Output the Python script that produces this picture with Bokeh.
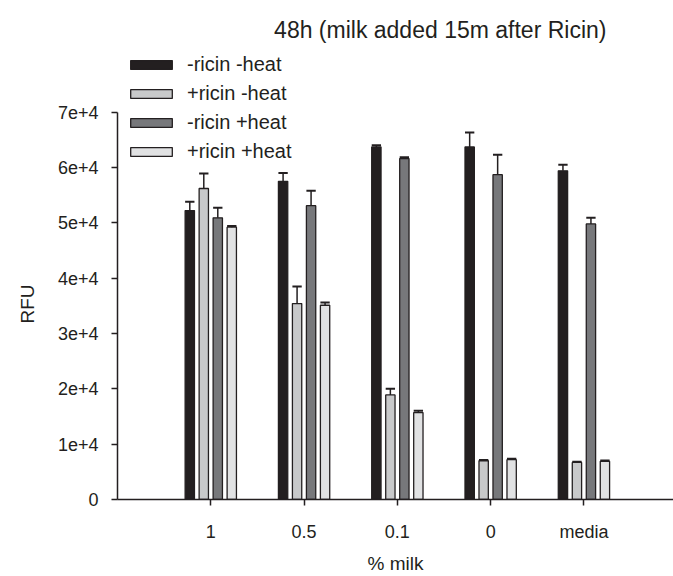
import numpy as np
from bokeh.plotting import figure
from bokeh.models import (Range1d, FixedTicker, LinearAxis, Legend, LegendItem, Label, Title)
from bokeh.embed import file_html
from bokeh.resources import INLINE

# ---- data ----
categories = ["1", "0.5", "0.1", "0", "media"]
series_names = ["-ricin -heat", "+ricin -heat", "-ricin +heat", "+ricin +heat"]
neg_ricin_neg_heat = [52200, 57500, 63700, 63700, 59400]
pos_ricin_neg_heat = [56200, 35400, 18900, 7000, 6700]
neg_ricin_pos_heat = [50900, 53100, 61600, 58700, 49800]
pos_ricin_pos_heat = [49200, 35100, 15700, 7200, 6900]
err_neg_neg = [1600, 1500, 300, 2600, 1100]
err_pos_neg = [2700, 3100, 1100, 150, 100]
err_neg_pos = [1800, 2700, 250, 3600, 1100]
err_pos_pos = [200, 500, 350, 150, 150]
y_ticks = [0, 10000, 20000, 30000, 40000, 50000, 60000, 70000]
y_tick_labels = ["0", "1e+4", "2e+4", "3e+4", "4e+4", "5e+4", "6e+4", "7e+4"]
title_text = "48h (milk added 15m after Ricin)"
y_label = "RFU"
x_label = "% milk"

colors = ["#231f20", "#c8c9ca", "#77787b", "#e1e2e3"]
offsets = [-0.225, -0.075, 0.075, 0.225]
bar_w = 0.1
INK = "#231f20"
FONT = "Liberation Sans"

values = [neg_ricin_neg_heat, pos_ricin_neg_heat, neg_ricin_pos_heat, pos_ricin_pos_heat]
errors = [err_neg_neg, err_pos_neg, err_neg_pos, err_pos_pos]

p = figure(width=673, height=576, output_backend="svg", toolbar_location=None,
           x_range=Range1d(0, 5.96), y_range=Range1d(0, 88000),
           min_border_left=117, min_border_right=0, min_border_top=12, min_border_bottom=73,
           x_axis_type=None, y_axis_type=None)
p.outline_line_color = None
p.xgrid.visible = False
p.ygrid.visible = False
p.background_fill_color = "white"
p.border_fill_color = "white"

base = np.arange(1, len(categories) + 1)
items = []
for name, vals, errs, col, off in zip(series_names, values, errors, colors, offsets):
    xs = base + off
    v = np.array(vals, dtype=float)
    e = np.array(errs, dtype=float)
    r = p.vbar(x=xs, top=v, width=bar_w, bottom=0, fill_color=col,
               line_color=INK, line_width=1.3)
    p.segment(x0=xs, y0=v, x1=xs, y1=v + e, line_color=INK, line_width=1.5)
    p.segment(x0=xs - bar_w / 2, y0=v + e, x1=xs + bar_w / 2, y1=v + e,
              line_color=INK, line_width=2)
    items.append(LegendItem(label=name, renderers=[r]))

# axes
yaxis = LinearAxis(bounds=(0, 70000), ticker=FixedTicker(ticks=y_ticks),
                   major_label_overrides={t: l for t, l in zip(y_ticks, y_tick_labels)})
xaxis = LinearAxis(ticker=FixedTicker(ticks=list(base)),
                   major_label_overrides={int(b): c for b, c in zip(base, categories)},
                   axis_label=x_label)
for ax in (xaxis, yaxis):
    ax.axis_line_color = INK
    ax.axis_line_width = 1.5
    ax.major_tick_line_color = INK
    ax.major_tick_line_width = 1.5
    ax.major_tick_out = 6
    ax.major_tick_in = 0
    ax.minor_tick_line_color = None
    ax.major_label_text_font = FONT
    ax.major_label_text_font_size = "18px"
    ax.major_label_text_color = INK
    ax.axis_label_text_font = FONT
    ax.axis_label_text_font_size = "19px"
    ax.axis_label_text_font_style = "normal"
    ax.axis_label_text_color = INK
yaxis.major_label_standoff = 13
xaxis.major_label_standoff = 16
xaxis.axis_label_standoff = 8
p.add_layout(yaxis, "left")
p.add_layout(xaxis, "below")

# y-axis title, placed beside the 0..7e4 part of the axis
ytitle = Title(text=y_label, align="left", offset=176, vertical_align="top",
               text_font=FONT, text_font_size="19px", text_font_style="normal",
               text_color=INK, standoff=30)
p.add_layout(ytitle, "left")

legend = Legend(items=items, location="top_left", margin=0, padding=0,
                border_line_color=None, background_fill_alpha=0,
                glyph_width=52, glyph_height=11, label_standoff=10, spacing=6,
                label_text_font=FONT, label_text_font_size="20px",
                label_text_color=INK)
legend.location = (8, 336)
p.add_layout(legend)

title = Label(x=3.46, y=84900, text=title_text, text_align="center",
              text_baseline="middle", text_font=FONT, text_font_size="23px",
              text_color=INK)
p.add_layout(title)

open("out.html", "w").write(file_html(p, INLINE))
